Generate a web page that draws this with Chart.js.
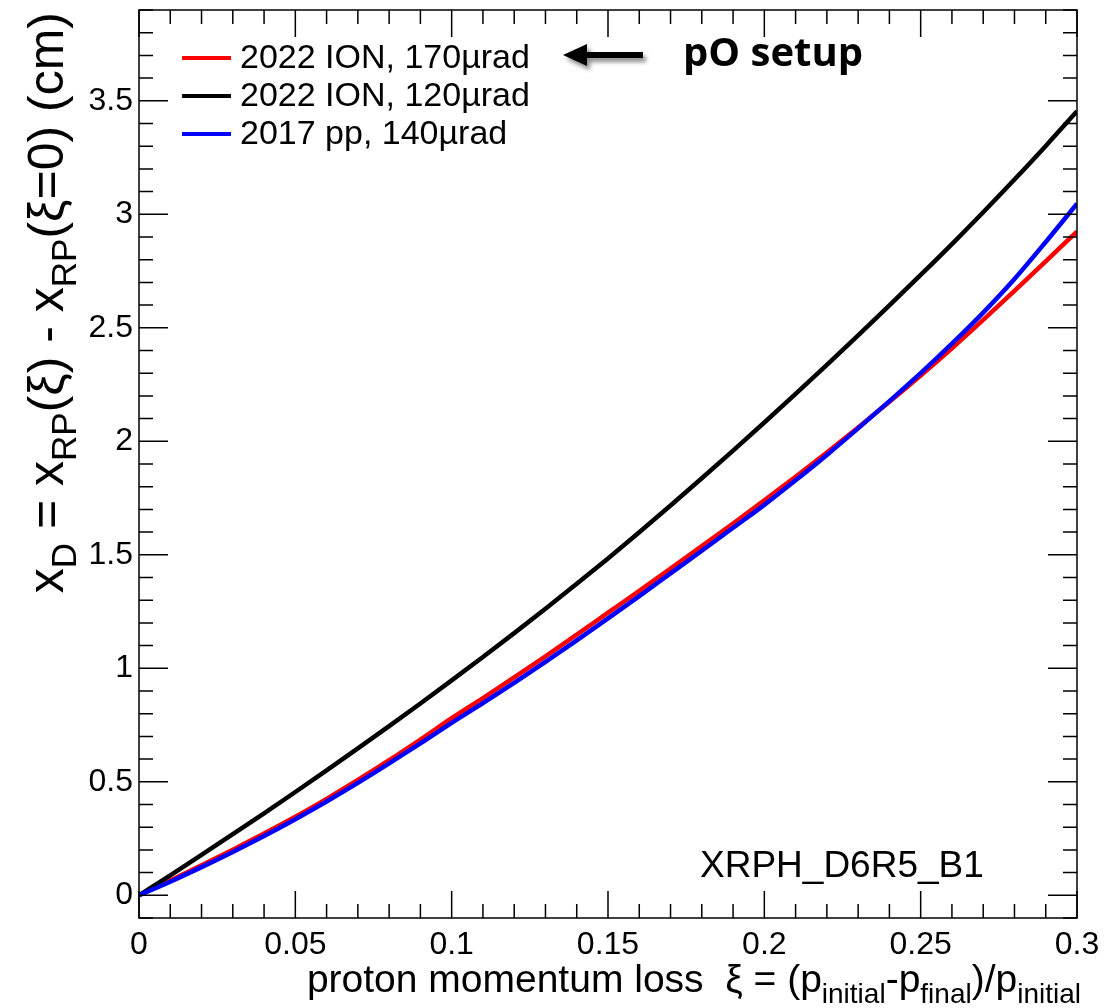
<!DOCTYPE html>
<html>
<head>
<meta charset="utf-8">
<script src="https://cdn.jsdelivr.net/npm/chart.js@4.4.1/dist/chart.umd.min.js"></script>
<style>
  html, body { margin: 0; padding: 0; background: #fff; }
  canvas { display: block; }
</style>
</head>
<body>
<canvas id="chart" width="1104" height="1008"></canvas>
<script>
// proton momentum loss xi
const xi = [0, 0.01, 0.02, 0.03, 0.04, 0.05, 0.06, 0.07, 0.08, 0.09, 0.10,
    0.11, 0.12, 0.13, 0.14, 0.15, 0.16, 0.17, 0.18, 0.19, 0.20,
    0.21, 0.22, 0.23, 0.24, 0.25, 0.26, 0.27, 0.28, 0.29, 0.30];

// x_D (cm) for each optics
const ion170 = [0, 0.065, 0.132, 0.201, 0.272, 0.346, 0.425, 0.508, 0.595, 0.686, 0.780,
    0.869, 0.960, 1.053, 1.148, 1.245, 1.341, 1.439, 1.538, 1.638, 1.740,
    1.844, 1.951, 2.061, 2.174, 2.290, 2.410, 2.535, 2.663, 2.793, 2.924];
const ion120 = [0, 0.088, 0.178, 0.269, 0.361, 0.455, 0.550, 0.647, 0.745, 0.845, 0.947,
    1.050, 1.155, 1.262, 1.372, 1.484, 1.599, 1.717, 1.837, 1.959, 2.083,
    2.209, 2.337, 2.467, 2.599, 2.733, 2.869, 3.009, 3.153, 3.301, 3.454];
const pp140 = [0, 0.060, 0.124, 0.191, 0.261, 0.335, 0.413, 0.495, 0.581, 0.669, 0.760,
    0.847, 0.936, 1.028, 1.123, 1.220, 1.318, 1.418, 1.518, 1.619, 1.720,
    1.828, 1.940, 2.057, 2.177, 2.300, 2.430, 2.567, 2.715, 2.878, 3.047];

const seriesLabels = ['2022 ION, 170\u00b5rad', '2022 ION, 120\u00b5rad', '2017 pp, 140\u00b5rad'];
const seriesColors = ['#ff0000', '#000000', '#0000ff'];

const xTicks = [0, 0.05, 0.1, 0.15, 0.2, 0.25, 0.3];
const yTicks = [0, 0.5, 1, 1.5, 2, 2.5, 3, 3.5];

const FONT = '"Liberation Sans", Arial, Helvetica, sans-serif';

function toPoints(ys) {
    return xi.map((x, i) => ({ x: x, y: ys[i] }));
}

// text with subscripts, parts = [[text, isSub], ...]
function richWidth(ctx, parts, size, subSize) {
    let w = 0;
    parts.forEach(p => {
        ctx.font = (p[1] ? subSize : size) + 'px ' + FONT;
        w += ctx.measureText(p[0]).width;
    });
    return w;
}
function drawRich(ctx, parts, x, y, size, subSize, subDrop) {
    let cx = x;
    parts.forEach(p => {
        ctx.font = (p[1] ? subSize : size) + 'px ' + FONT;
        ctx.fillText(p[0], cx, p[1] ? y + subDrop : y);
        cx += ctx.measureText(p[0]).width;
    });
}

const rootFrame = {
    id: 'rootFrame',
    afterDraw(chart) {
        const ctx = chart.ctx;
        const a = chart.chartArea;
        const xs = chart.scales.x, ys = chart.scales.y;
        ctx.save();
        ctx.strokeStyle = '#000';
        ctx.lineWidth = 1.5;

        // inward ticks on all four sides
        ctx.beginPath();
        for (let k = 0; k <= 30; k++) {
            const px = xs.getPixelForValue(k / 100);
            const len = (k % 5 === 0) ? 27 : 14;
            ctx.moveTo(px, a.bottom); ctx.lineTo(px, a.bottom - len);
            ctx.moveTo(px, a.top); ctx.lineTo(px, a.top + len);
        }
        for (let k = -1; k <= 39; k++) {
            const py = ys.getPixelForValue(k / 10);
            const len = (k % 5 === 0) ? 29 : 14;
            ctx.moveTo(a.left, py); ctx.lineTo(a.left + len, py);
            ctx.moveTo(a.right, py); ctx.lineTo(a.right - len, py);
        }
        ctx.stroke();
        ctx.strokeRect(a.left, a.top, a.right - a.left, a.bottom - a.top);

        ctx.fillStyle = '#000';
        ctx.textBaseline = 'alphabetic';

        // x axis title, right aligned to frame
        const xParts = [['proton momentum loss  \u03be = (p', false], ['initial', true], ['-p', false],
            ['final', true], [')/p', false], ['initial', true]];
        const xw = richWidth(ctx, xParts, 39, 28);
        drawRich(ctx, xParts, a.right + 4 - xw, 992, 39, 28, 11);

        // y axis title, rotated
        const yParts = [['x', false], ['D', true], [' = x', false], ['RP', true], ['(\u03be) - x', false],
            ['RP', true], ['(\u03be=0) (cm)', false]];
        const yw = richWidth(ctx, yParts, 50, 35);
        ctx.save();
        ctx.translate(63, a.top + 2 + yw);
        ctx.rotate(-Math.PI / 2);
        drawRich(ctx, yParts, 0, 0, 50, 35, 13);
        ctx.restore();

        // legend
        ctx.font = '34px ' + FONT;
        const rows = [58, 96, 134];
        seriesLabels.forEach((lab, i) => {
            ctx.strokeStyle = seriesColors[i];
            ctx.lineWidth = 4;
            ctx.beginPath();
            ctx.moveTo(182, rows[i]);
            ctx.lineTo(231, rows[i]);
            ctx.stroke();
            ctx.fillText(lab, 240, rows[i] + 10);
        });

        // label of the detector
        ctx.font = '37px ' + FONT;
        ctx.fillText('XRPH_D6R5_B1', 700, 877);

        // annotation arrow
        ctx.save();
        ctx.shadowColor = 'rgba(0,0,0,0.45)';
        ctx.shadowOffsetX = 3;
        ctx.shadowOffsetY = 4;
        ctx.shadowBlur = 4;
        ctx.fillStyle = '#000';
        ctx.beginPath();
        ctx.moveTo(563, 55);
        ctx.lineTo(587, 44);
        ctx.lineTo(587, 52);
        ctx.lineTo(643, 52);
        ctx.lineTo(643, 58);
        ctx.lineTo(587, 58);
        ctx.lineTo(587, 66);
        ctx.closePath();
        ctx.fill();
        ctx.restore();

        ctx.font = 'bold 40px "Open Sans", Lato, sans-serif';
        ctx.fillText('pO setup', 683, 66);
        ctx.restore();
    }
};

new Chart(document.getElementById('chart'), {
    type: 'line',
    data: {
        datasets: [
            { label: seriesLabels[0], data: toPoints(ion170), borderColor: seriesColors[0], order: 2 },
            { label: seriesLabels[1], data: toPoints(ion120), borderColor: seriesColors[1], order: 1 },
            { label: seriesLabels[2], data: toPoints(pp140), borderColor: seriesColors[2], order: 0 }
        ]
    },
    options: {
        responsive: false,
        animation: false,
        layout: { padding: { top: 10, right: 27, left: 0, bottom: 0 } },
        elements: {
            line: { borderWidth: 4.5, cubicInterpolationMode: 'monotone', fill: false },
            point: { radius: 0 }
        },
        plugins: {
            legend: { display: false },
            tooltip: { enabled: false }
        },
        scales: {
            x: {
                type: 'linear',
                min: 0,
                max: 0.3,
                afterBuildTicks: s => { s.ticks = xTicks.map(v => ({ value: v })); },
                afterFit: s => { s.height = 90; s.paddingLeft = 0; s.paddingRight = 0; },
                grid: { display: false, drawTicks: false },
                border: { display: false },
                ticks: {
                    padding: 8,
                    maxRotation: 0,
                    color: '#000',
                    font: { family: FONT, size: 32 },
                    callback: v => String(+v.toFixed(2))
                }
            },
            y: {
                type: 'linear',
                min: -0.1,
                max: 3.9,
                afterBuildTicks: s => { s.ticks = yTicks.map(v => ({ value: v })); },
                afterFit: s => { s.width = 139; s.paddingTop = 0; s.paddingBottom = 0; },
                grid: { display: false, drawTicks: false },
                border: { display: false },
                ticks: {
                    padding: 6,
                    color: '#000',
                    font: { family: FONT, size: 32 },
                    callback: v => String(+v.toFixed(2))
                }
            }
        }
    },
    plugins: [rootFrame]
});
</script>
</body>
</html>
